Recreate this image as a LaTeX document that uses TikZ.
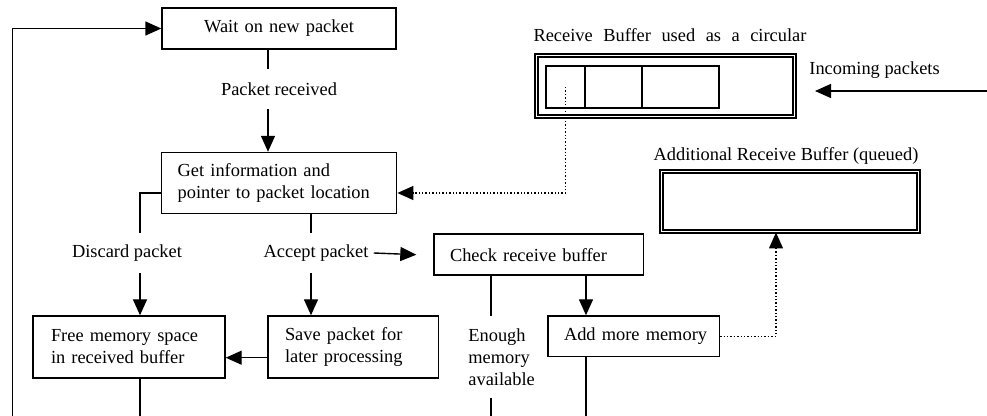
\documentclass[tikz,border=0pt]{standalone}
\usepackage{fontspec}
\setmainfont{Liberation Serif}
\usetikzlibrary{arrows.meta}

\begin{document}
\begin{tikzpicture}[x=0.5pt,y=-0.5pt,
  font=\fontsize{9.2}{11}\selectfont,
  box/.style={draw, line width=0.7pt, inner xsep=8pt, inner ysep=0pt, align=left},
  buf/.style={draw, double, line width=1pt, double distance=0.7pt, inner sep=0pt},
  cell/.style={draw, line width=0.7pt, inner sep=0pt, minimum height=21pt},
  lbl/.style={inner sep=0pt, minimum height=20pt},
  ln/.style={line width=0.7pt},
  arr/.style={line width=0.7pt, -{Triangle[length=8pt,width=7pt]}},
  dotarr/.style={line width=0.7pt, densely dotted, -{Triangle[length=8pt,width=7pt]}}]
	\useasboundingbox (0,0) rectangle (987,416);

	% boxes of the flow
	\node[box, text width=101pt, align=center, minimum height=20.5pt] (wait) at (279,28.5) {Wait on new packet};
	\node[box, text width=101.5pt, minimum height=30.5pt] (info) at (279.2,183) {Get information and\\pointer to packet location};
	\node[box, inner xsep=9pt, text width=78pt, minimum height=31pt] (free) at (129,347) {Free memory space\\in received buffer};
	\node[box, inner xsep=8.5pt, text width=68.3pt, minimum height=31pt] (save) at (353.3,347) {Save packet for\\later processing};
	\node[box, text width=88.7pt, minimum height=20.5pt] (check) at (538.7,254.7) {Check receive buffer};
	\node[box, text width=69.7pt, minimum height=20.3pt] (add) at (633.7,336.3) {\mbox{Add more memory}};

	% buffers
	\node[buf, minimum width=129pt, minimum height=30.5pt] (circ) at (665.5,86) {};
	\node[cell, minimum width=19.5pt] (c1) at (565.5,87) {};
	\node[cell, minimum width=28.5pt] (c2) at (613.5,87) {};
	\node[cell, minimum width=38.5pt] (c3) at (680.5,87) {};
	\node[buf, minimum width=128.5pt, minimum height=30pt] (addbuf) at (790,201.5) {};

	% texts
	\node[lbl] (prec) at (279,89) {Packet received};
	\node[lbl] (disc) at (127,253) {Discard packet};
	\node[lbl] (acc) at (316,253) {Accept packet};
	\node[inner sep=0pt, align=left, minimum height=41pt, anchor=west] (enough) at (468,357) {Enough\\memory\\available};
	\node[inner sep=0pt] (circlbl) at (670,35) {\makebox[136.5pt][s]{Receive Buffer used as a circular}};
	\node[inner sep=0pt] (addlbl) at (786,156) {Additional Receive Buffer (queued)};
	\node[inner sep=0pt, anchor=west] (inclbl) at (809,70) {Incoming packets};

	% columns and rows of the lines
	\coordinate (bot) at (0,416);
	\coordinate (loop) at (12.3,416);
	\coordinate (inc) at (987,91);
	\coordinate (xinc) at (815,0);
	\coordinate (xrecv) at (268,0);
	\coordinate (xdisc) at (140,0);
	\coordinate (xacc) at (311,0);
	\coordinate (xenough) at (491,0);
	\coordinate (xadd) at (586,0);
	\coordinate (xbuf) at (776,0);
	\coordinate (yleft) at (0,193);
	\coordinate (ysave) at (0,357.7);

	\draw[ln] (wait.south -| xrecv) -- (prec.north -| xrecv);
	\draw[arr] (prec.south -| xrecv) -- (info.north -| xrecv);
	\draw[ln] (info.west |- yleft) -| (disc.north -| xdisc);
	\draw[arr] (disc.south -| xdisc) -- (free.north -| xdisc);
	\draw[ln] (info.south -| xacc) -- (acc.north -| xacc);
	\draw[arr] (acc.south -| xacc) -- (save.north -| xacc);
	\draw[arr] ([xshift=2.5pt]acc.east) -- ([xshift=-8.5pt]check.west);
	\draw[arr] (save.west |- ysave) -- (free.east |- ysave);
	\draw[ln] (free.south -| xdisc) -- (xdisc |- bot);
	\draw[ln] (check.south -| xenough) -- (enough.north -| xenough);
	\draw[ln] (enough.south -| xenough) -- (xenough |- bot);
	\draw[arr] (check.south -| xadd) -- (add.north -| xadd);
	\draw[ln] (add.south -| xadd) -- (xadd |- bot);
	\draw[dotarr] (add.east) -| (addbuf.south -| xbuf);
	\draw[dotarr] (c1.center) |- (info.east |- yleft);
	\draw[arr] (loop) |- (wait.west);
	\draw[arr] (inc) -- (xinc |- inc);
\end{tikzpicture}
\end{document}
